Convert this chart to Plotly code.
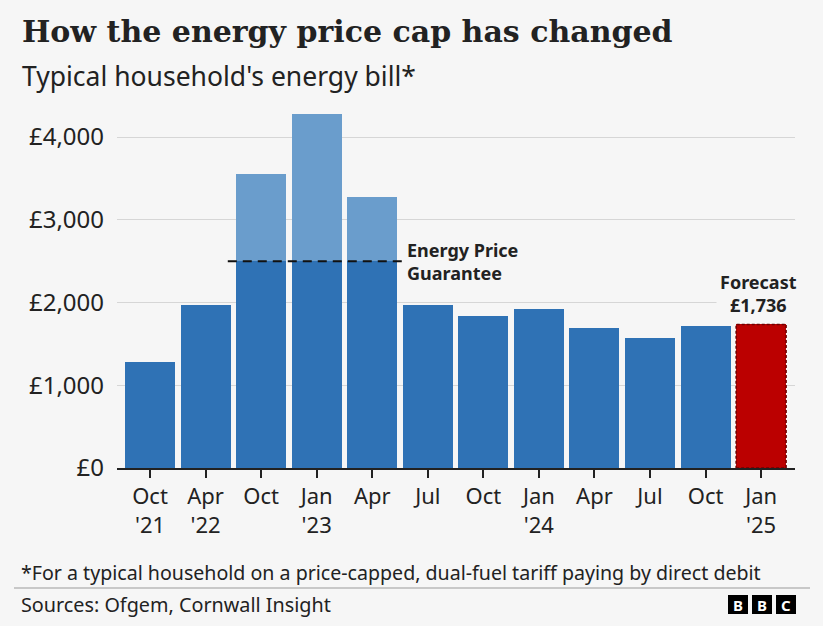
import plotly.graph_objects as go

# ---- data ----
months = ["Oct<br>'21", "Apr<br>'22", "Oct", "Jan<br>'23", "Apr", "Jul",
          "Oct", "Jan<br>'24", "Apr", "Jul", "Oct", "Jan<br>'25"]
bills = [1277, 1971, 3549, 4279, 3280, 1976, 1834, 1928, 1690, 1568, 1717, 1736]
forecast_flag = [False] * 11 + [True]
epg_cap = 2500
epg_months = [2, 3, 4]  # indices covered by the Energy Price Guarantee
forecast_value = 1736
y_ticks = [0, 1000, 2000, 3000, 4000]
y_tick_labels = ["£0", "£1,000", "£2,000", "£3,000", "£4,000"]

BG = "#f6f6f6"
DARK = "#2f72b5"
LIGHT = "#6a9dcc"
RED = "#bb0000"
TXT = "#222222"

# plot area in pixels
W, H = 823, 626
L, R, T, B = 117, 795, 104, 468


def px_x(p):
    return (p - L) / (R - L)


def px_y(p):
    return (B - p) / (B - T)


x_idx = list(range(len(months)))
base_vals = []
top_vals = []
for i, v in enumerate(bills):
    if forecast_flag[i]:
        base_vals.append(None)
        top_vals.append(None)
    elif i in epg_months:
        base_vals.append(min(v, epg_cap))
        top_vals.append(v - epg_cap)
    else:
        base_vals.append(v)
        top_vals.append(None)

fc_x = [i for i in x_idx if forecast_flag[i]]
fc_y = [bills[i] for i in x_idx if forecast_flag[i]]

fig = go.Figure()
fig.add_trace(go.Bar(x=x_idx, y=base_vals, marker=dict(color=DARK, line=dict(width=0)),
                     hoverinfo="y"))
fig.add_trace(go.Bar(x=x_idx, y=top_vals, marker=dict(color=LIGHT, line=dict(width=0)),
                     hoverinfo="y"))
fig.add_trace(go.Bar(x=fc_x, y=fc_y, marker=dict(color=RED, line=dict(width=0)),
                     hoverinfo="y"))

bw = 0.9
# dashed outline for forecast bar
for xi, yi in zip(fc_x, fc_y):
    fig.add_shape(type="rect", xref="x", yref="y", x0=xi - bw / 2, x1=xi + bw / 2,
                  y0=0, y1=yi, line=dict(color="#6e0000", width=1.5, dash="3px,2px"),
                  fillcolor="rgba(0,0,0,0)", layer="above")

# EPG dashed line
fig.add_shape(type="line", xref="x", yref="y", x0=min(epg_months) - 0.6,
              x1=max(epg_months) + 0.59, y0=epg_cap, y1=epg_cap,
              line=dict(color="#111111", width=2, dash="9px,6px"), layer="above")

lab_font = dict(family="Noto Sans", size=18, color=TXT)
fig.add_annotation(xref="x", yref="y", x=max(epg_months) + 0.61, y=epg_cap,
                   xanchor="left", yanchor="middle", align="left", showarrow=False,
                   text="<b>Energy Price<br>Guarantee</b>", font=lab_font, borderpad=0)

fig.add_annotation(xref="x", yref="y", x=fc_x[0] - 0.05, y=forecast_value, yshift=3,
                   xanchor="center", yanchor="bottom", align="center", showarrow=False,
                   text="<b>Forecast<br>£{:,}</b>".format(forecast_value), font=lab_font,
                   bgcolor=BG, borderpad=3)

# titles
fig.add_annotation(xref="paper", yref="paper", x=px_x(20), y=px_y(31), xanchor="left",
                   yanchor="middle", showarrow=False,
                   text="<b>How the energy price cap has changed</b>",
                   font=dict(family="DejaVu Serif", size=30, color=TXT))
fig.add_annotation(xref="paper", yref="paper", x=px_x(20), y=px_y(76), xanchor="left",
                   yanchor="middle", showarrow=False,
                   text="Typical household's energy bill*",
                   font=dict(family="Noto Sans", size=26.5, color=TXT))

# footer
fig.add_annotation(xref="paper", yref="paper", x=px_x(19), y=px_y(572), xanchor="left",
                   yanchor="middle", showarrow=False,
                   text="*For a typical household on a price-capped, dual-fuel tariff paying by direct debit",
                   font=dict(family="Noto Sans", size=19.6, color=TXT))
fig.add_shape(type="line", xref="paper", yref="paper", x0=px_x(14), x1=px_x(810),
              y0=px_y(588), y1=px_y(588), line=dict(color="#9a9a9a", width=1))
fig.add_annotation(xref="paper", yref="paper", x=px_x(19), y=px_y(604), xanchor="left",
                   yanchor="middle", showarrow=False,
                   text="Sources: Ofgem, Cornwall Insight",
                   font=dict(family="Noto Sans", size=19.8, color=TXT))

for k, letter in enumerate("BBC"):
    x0 = 728 + 24 * k
    fig.add_shape(type="rect", xref="paper", yref="paper", x0=px_x(x0), x1=px_x(x0 + 20),
                  y0=px_y(614), y1=px_y(595), fillcolor="#000000", line=dict(width=0))
    fig.add_annotation(xref="paper", yref="paper", x=px_x(x0 + 10), y=px_y(604.5),
                       xanchor="center", yanchor="middle", showarrow=False,
                       text="<b>" + letter + "</b>",
                       font=dict(family="Noto Sans", size=15, color="#ffffff"))

fig.update_layout(
    width=W, height=H, barmode="stack", bargap=0.1, showlegend=False,
    paper_bgcolor=BG, plot_bgcolor=BG,
    margin=dict(l=L, r=W - R, t=T, b=H - B, pad=0),
    font=dict(family="Noto Sans", color=TXT),
    xaxis=dict(range=[-0.594, 11.61], tickmode="array", tickvals=x_idx, ticktext=months,
               showgrid=False, zeroline=False, showline=True, linecolor="#222222",
               linewidth=2, ticks="outside", ticklen=8, tickwidth=1.5, tickcolor="#222222",
               tickfont=dict(family="Noto Sans", size=22, color=TXT), fixedrange=True),
    yaxis=dict(range=[0, 4400], tickmode="array", tickvals=y_ticks,
               ticktext=y_tick_labels,
               showgrid=True, gridcolor="#d6d6d6", gridwidth=1, zeroline=False,
               showline=False, ticks="", ticklabelstandoff=12,
               tickfont=dict(family="Noto Sans", size=24, color=TXT), fixedrange=True),
)

fig.write_html("out.html")
